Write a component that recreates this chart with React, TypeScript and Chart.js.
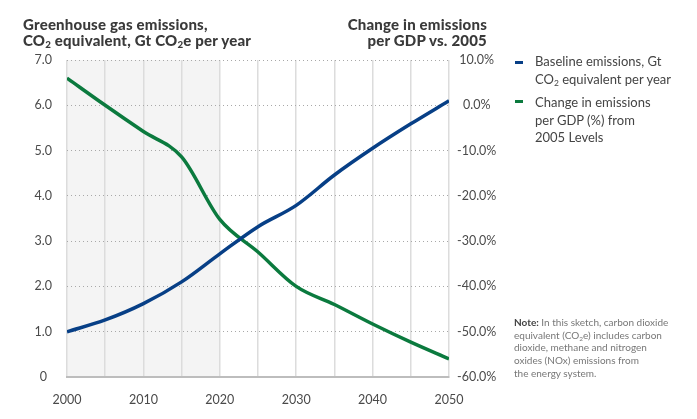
import React, { useEffect, useRef } from "react";
import { Chart, registerables } from "chart.js";

Chart.register(...registerables);

const years = [2000, 2005, 2010, 2015, 2020, 2025, 2030, 2035, 2040, 2045, 2050];
const baselineEmissions = [1.0, 1.26, 1.62, 2.1, 2.72, 3.32, 3.79, 4.46, 5.05, 5.59, 6.1];
const changePerGdp = [6.0, 0.0, -5.8, -11.4, -25.2, -32.4, -40.0, -44.0, -48.3, -52.3, -56.0];
const xLabelYears = [2000, 2010, 2020, 2030, 2040, 2050];
const shadedRange = [2000, 2020];

const FONT = "Lato, 'Open Sans', sans-serif";
const BLUE = "#073f86";
const GREEN = "#0b7a3e";

const shadePlugin = {
  id: "shade",
  beforeDraw(chart: any) {
    const { ctx, chartArea, scales } = chart;
    const x0 = scales.x.getPixelForValue(shadedRange[0]);
    const x1 = scales.x.getPixelForValue(shadedRange[1]);
    ctx.save();
    ctx.fillStyle = "#f4f4f4";
    ctx.fillRect(x0, chartArea.top, x1 - x0, chartArea.bottom - chartArea.top);
    ctx.restore();
  },
};

function ChartCanvas() {
  const ref = useRef<HTMLCanvasElement | null>(null);
  useEffect(() => {
    if (!ref.current) return;
    const chart = new Chart(ref.current, {
      type: "line",
      data: {
        datasets: [
          {
            label: "Baseline emissions",
            data: years.map((y, i) => ({ x: y, y: baselineEmissions[i] })),
            borderColor: BLUE,
            borderWidth: 3.5,
            pointRadius: 0,
            cubicInterpolationMode: "monotone",
            yAxisID: "y",
          },
          {
            label: "Change in emissions per GDP",
            data: years.map((y, i) => ({ x: y, y: changePerGdp[i] })),
            borderColor: GREEN,
            borderWidth: 3.5,
            pointRadius: 0,
            cubicInterpolationMode: "monotone",
            yAxisID: "y1",
          },
        ],
      },
      options: {
        animation: false,
        responsive: false,
        maintainAspectRatio: false,
        layout: { padding: { top: 60, left: 0, right: 0, bottom: 0 } },
        plugins: { legend: { display: false }, tooltip: { enabled: false } },
        scales: {
          x: {
            type: "linear",
            min: 2000,
            max: 2050,
            afterFit: (s: any) => { s.height = 42; },
            ticks: {
              stepSize: 5,
              autoSkip: false,
              maxRotation: 0,
              padding: 15,
              color: "#4a4a4a",
              font: { family: FONT, size: 12.5 },
              callback: (v: any) => (xLabelYears.includes(Number(v)) ? String(v) : ""),
            },
            grid: { color: "#dcdcdc", lineWidth: 1.5, drawTicks: false },
            border: { display: true, color: "#bdbdbd", width: 2 },
          },
          y: {
            position: "left",
            min: 0,
            max: 7,
            afterFit: (s: any) => { s.width = 67; },
            ticks: {
              stepSize: 1,
              padding: 15,
              crossAlign: "center",
              color: "#4a4a4a",
              font: { family: FONT, size: 12.5 },
              callback: (v: any) => (Number(v) === 0 ? "0" : Number(v).toFixed(1)),
            },
            grid: { color: "#a8a8a8", lineWidth: 1, drawTicks: false },
            border: { display: false, dash: [1, 3] },
          },
          y1: {
            position: "right",
            min: -60,
            max: 10,
            afterFit: (s: any) => { s.width = 248; },
            ticks: {
              stepSize: 10,
              padding: 8,
              crossAlign: "center",
              color: "#4a4a4a",
              font: { family: FONT, size: 12.5 },
              callback: (v: any) => Number(v).toFixed(1) + "%",
            },
            grid: { display: false, drawTicks: false },
            border: { display: false },
          },
        },
      },
      plugins: [shadePlugin],
    } as any);
    return () => chart.destroy();
  }, []);
  return <canvas ref={ref} width={697} height={419} style={{ width: 697, height: 419, display: "block" }} />;
}

const sub: React.CSSProperties = { fontSize: "0.65em", verticalAlign: "-0.25em", lineHeight: 0 };

export default function App() {
  const titleStyle: React.CSSProperties = {
    position: "absolute",
    top: 15.5,
    fontFamily: FONT,
    fontWeight: 900,
    fontSize: 15,
    letterSpacing: "0.2px",
    lineHeight: "16px",
    color: "#3a3a3a",
    whiteSpace: "nowrap",
  };
  const legendText: React.CSSProperties = {
    position: "absolute",
    left: 535,
    fontFamily: FONT,
    fontSize: 13,
    lineHeight: "17.5px",
    color: "#444",
    whiteSpace: "nowrap",
  };
  const dash = (color: string, top: number): React.CSSProperties => ({
    position: "absolute",
    left: 515,
    top,
    width: 8,
    height: 3,
    background: color,
  });
  return (
    <div style={{ position: "fixed", left: 0, top: 0, width: 697, height: 419, background: "#fff", overflow: "hidden" }}>
      <ChartCanvas />
      <div style={{ ...titleStyle, left: 23 }}>
        Greenhouse gas emissions,
        <br />
        CO<span style={sub}>2</span> equivalent, Gt CO<span style={sub}>2</span>e per year
      </div>
      <div style={{ ...titleStyle, right: 210, textAlign: "right" }}>
        Change in emissions
        <br />
        per GDP vs. 2005
      </div>
      <div style={dash(BLUE, 61)} />
      <div style={{ ...legendText, top: 53 }}>
        Baseline emissions, Gt
        <br />
        CO<span style={sub}>2</span> equivalent per year
      </div>
      <div style={dash(GREEN, 100)} />
      <div style={{ ...legendText, top: 94 }}>
        Change in emissions
        <br />
        per GDP (%) from
        <br />
        2005 Levels
      </div>
      <div
        style={{
          position: "absolute",
          left: 514,
          top: 316,
          fontFamily: FONT,
          fontSize: 10,
          lineHeight: "12.7px",
          color: "#777",
          whiteSpace: "nowrap",
        }}
      >
        <span style={{ fontWeight: 700, color: "#444" }}>Note:</span> In this sketch, carbon dioxide
        <br />
        equivalent (CO<span style={sub}>2</span>e) includes carbon
        <br />
        dioxide, methane and nitrogen
        <br />
        oxides (NOx) emissions from
        <br />
        the energy system.
      </div>
    </div>
  );
}
